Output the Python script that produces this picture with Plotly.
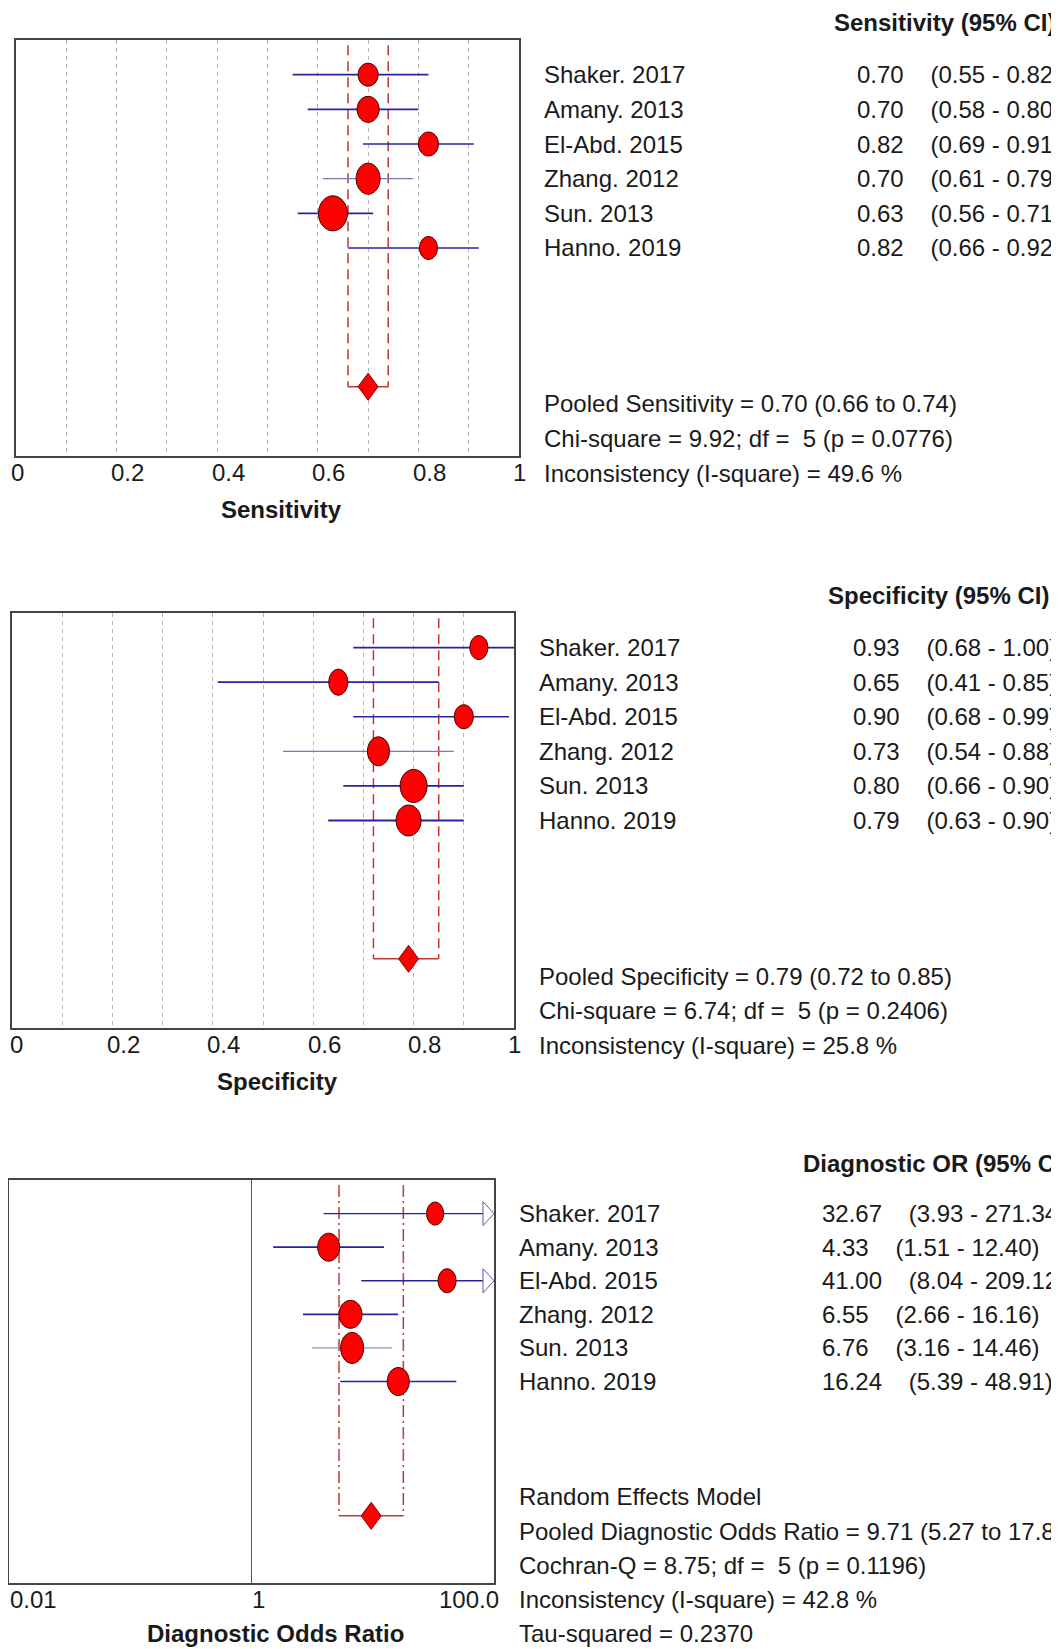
import numpy as np
import plotly.graph_objects as go

# The page body adds an 8px margin around the figure, so the figure is made
# 8px smaller and every pixel position is measured from that offset.
PAGE_W, PAGE_H = 1059, 1649
OFF = 8
W, H = PAGE_W - OFF, PAGE_H - OFF

# ---------------- data ----------------
studies = ["Shaker. 2017", "Amany. 2013", "El-Abd. 2015", "Zhang. 2012", "Sun. 2013", "Hanno. 2019"]

sens = [0.70, 0.70, 0.82, 0.70, 0.63, 0.82]
sens_lo = [0.55, 0.58, 0.69, 0.61, 0.56, 0.66]
sens_hi = [0.82, 0.80, 0.91, 0.79, 0.71, 0.92]
sens_pooled = [0.70, 0.66, 0.74]
sens_stats = ["Pooled Sensitivity = 0.70 (0.66 to 0.74)",
              "Chi-square = 9.92; df =\u00a0\u00a05 (p = 0.0776)",
              "Inconsistency (I-square) = 49.6 %"]

spec = [0.93, 0.65, 0.90, 0.73, 0.80, 0.79]
spec_lo = [0.68, 0.41, 0.68, 0.54, 0.66, 0.63]
spec_hi = [1.00, 0.85, 0.99, 0.88, 0.90, 0.90]
spec_pooled = [0.79, 0.72, 0.85]
spec_stats = ["Pooled Specificity = 0.79 (0.72 to 0.85)",
              "Chi-square = 6.74; df =\u00a0\u00a05 (p = 0.2406)",
              "Inconsistency (I-square) = 25.8 %"]

dor = [32.67, 4.33, 41.00, 6.55, 6.76, 16.24]
dor_lo = [3.93, 1.51, 8.04, 2.66, 3.16, 5.39]
dor_hi = [271.34, 12.40, 209.12, 16.16, 14.46, 48.91]
dor_pooled = [9.71, 5.27, 17.88]
dor_stats = ["Random Effects Model",
             "Pooled Diagnostic Odds Ratio = 9.71 (5.27 to 17.88)",
             "Cochran-Q = 8.75; df =\u00a0\u00a05 (p = 0.1196)",
             "Inconsistency (I-square) = 42.8 %",
             "Tau-squared = 0.2370"]

lin_ticks = [0, 0.2, 0.4, 0.6, 0.8, 1]
lin_ticktext = ["0", "0.2", "0.4", "0.6", "0.8", "1"]
log_ticks = [0.01, 1, 100]
log_ticktext = ["0.01", "1", "100.0"]

# ---------------- styles ----------------
FONT = "Liberation Sans, Arial, sans-serif"
FS = 24
TXT = "#1a1a1a"
RED = "#ff0000"
RED_LINE = "#c23636"
BLUE = "#2424a0"
BLUE_LIGHT = "#7a7ab8"
BOX = "#444444"

# marker ellipse sizes (px) per panel (w, h)
sens_sz = [(20, 23), (22, 26), (20, 24), (24, 31), (29, 35), (18, 23)]
spec_sz = [(18, 24), (19, 26), (19, 24), (22, 29), (27, 33), (25, 31)]
dor_sz = [(17, 23), (22, 28), (18, 24), (23, 28), (23, 31), (22, 28)]
sens_lw = [1.6, 1.8, 1.6, 1.1, 1.8, 1.6]
spec_lw = [1.6, 1.8, 1.6, 1.1, 1.6, 1.8]
dor_lw = [1.4, 1.6, 1.4, 1.6, 1.0, 1.6]

ROW_POOLED = 9
rows = list(range(len(studies)))

# panel geometry in page px (left, right, top, bottom)
panels = [
    dict(name="sens", box=(16, 519, 40, 456), xa="x", ya="y"),
    dict(name="spec", box=(12, 514, 613, 1028), xa="x2", ya="y2"),
    dict(name="dor", box=(9, 494, 1180, 1583), xa="x3", ya="y3"),
]
Y_RANGE = [11, -1]

fig = go.Figure()
shapes = []
annotations = []


def px2fx(p):
    return (p - OFF) / W


def px2fy(p):
    return 1 - (p - OFF) / H


def row_fy(panel, row):
    l, r, t, b = panel["box"]
    px = t + (row - Y_RANGE[1]) * (b - t) / (Y_RANGE[0] - Y_RANGE[1])
    return px2fy(px)


def ann(text, x, y, xref, xanchor="left", size=FS, bold=False, xshift=0):
    if bold:
        text = "<b>" + text + "</b>"
    annotations.append(dict(text=text, x=x, y=y, xref=xref, yref="paper",
                            xanchor=xanchor, yanchor="middle", showarrow=False,
                            xshift=xshift,
                            font=dict(family=FONT, size=size, color=TXT)))


def ellipse_path(w, h):
    rx, ry, k = w / 2, h / 2, 0.5523
    return (f"M {rx} 0 C {rx} {k*ry} {k*rx} {ry} 0 {ry} "
            f"C {-k*rx} {ry} {-rx} {k*ry} {-rx} 0 "
            f"C {-rx} {-k*ry} {-k*rx} {-ry} 0 {-ry} "
            f"C {k*rx} {-ry} {rx} {-k*ry} {rx} 0 Z")


def forest(p, est, lo, hi, pooled, sizes, lws, dash, xmax=None):
    xa, ya = p["xa"], p["ya"]
    # pooled CI dashed verticals + bracket
    for xv in pooled[1:]:
        fig.add_trace(go.Scatter(x=[xv, xv], y=[-0.85, ROW_POOLED], xaxis=xa, yaxis=ya,
                                 mode="lines", line=dict(color=RED_LINE, width=1.5, dash=dash),
                                 hoverinfo="skip", showlegend=False))
    fig.add_trace(go.Scatter(x=[pooled[1], pooled[2]], y=[ROW_POOLED, ROW_POOLED], xaxis=xa, yaxis=ya,
                             mode="lines", line=dict(color=RED_LINE, width=1.5),
                             hoverinfo="skip", showlegend=False))
    # CI lines
    for i in rows:
        up = hi[i] if xmax is None else min(hi[i], xmax)
        col = BLUE if lws[i] > 1.2 else BLUE_LIGHT
        fig.add_trace(go.Scatter(x=[lo[i], up], y=[i, i], xaxis=xa, yaxis=ya,
                                 mode="lines", line=dict(color=col, width=lws[i]),
                                 hoverinfo="skip", showlegend=False, cliponaxis=False))
        if xmax is not None and hi[i] > xmax:
            shapes.append(dict(type="path", xref=xa, yref=ya, xsizemode="pixel", ysizemode="pixel",
                               xanchor=xmax, yanchor=i,
                               path="M -11 -12 L 0 0 L -11 12 Z",
                               line=dict(color="#5a5ab0", width=1), fillcolor="white",
                               layer="above"))
    # study ellipses
    for i in rows:
        w, h = sizes[i]
        shapes.append(dict(type="path", xref=xa, yref=ya, xsizemode="pixel", ysizemode="pixel",
                           xanchor=est[i], yanchor=i, path=ellipse_path(w, h),
                           fillcolor=RED, line=dict(color="#400000", width=1), layer="above"))
    # pooled diamond
    shapes.append(dict(type="path", xref=xa, yref=ya, xsizemode="pixel", ysizemode="pixel",
                       xanchor=pooled[0], yanchor=ROW_POOLED,
                       path="M -10 0 L 0 13.5 L 10 0 L 0 -13.5 Z",
                       fillcolor=RED, line=dict(color="#8a0000", width=1), layer="above"))


forest(panels[0], sens, sens_lo, sens_hi, sens_pooled, sens_sz, sens_lw, "10px,6px")
forest(panels[1], spec, spec_lo, spec_hi, spec_pooled, spec_sz, spec_lw, "10px,6px")
forest(panels[2], dor, dor_lo, dor_hi, dor_pooled, dor_sz, dor_lw, "12px,4px,2px,4px", xmax=log_ticks[-1])

# reference line at DOR = 1
shapes.append(dict(type="line", xref="x3", yref="y3 domain", x0=1, x1=1, y0=0, y1=1,
                   line=dict(color="#555555", width=1), layer="below"))

# ---------------- axes ----------------
axis_common = dict(showline=True, mirror=True, linecolor=BOX, linewidth=1.5,
                   zeroline=False, ticks="", showticklabels=False)
layout_axes = {}
for k, p in enumerate(panels):
    l, r, t, b = p["box"]
    sfx = "" if k == 0 else str(k + 1)
    if p["name"] == "dor":
        xa = dict(type="log", range=[np.log10(log_ticks[0]), np.log10(log_ticks[-1])],
                  showgrid=False, **axis_common)
    else:
        xa = dict(range=[0, 1], showgrid=True, gridcolor="#b5b5b5", griddash="4px,4px",
                  gridwidth=1, tickvals=list(np.round(np.arange(0.1, 1.0, 0.1), 1)), **axis_common)
    xa["domain"] = [px2fx(l), px2fx(r)]
    xa["anchor"] = "y" + sfx
    ya = dict(range=Y_RANGE, showgrid=False, domain=[px2fy(b), px2fy(t)],
              anchor="x" + sfx, **axis_common)
    layout_axes["xaxis" + sfx] = xa
    layout_axes["yaxis" + sfx] = ya

# ---------------- text ----------------
text_cfg = [
    dict(p=panels[0], title="Sensitivity", header="Sensitivity (95% CI)", est=sens, lo=sens_lo, hi=sens_hi,
         stats=sens_stats, name_x=542, val_x=855, head_x=832, title_x=281, stat_rows=[9.5, 10.5, 11.5],
         tick_row=11.48, title_row=12.55, zero_shift=1),
    dict(p=panels[1], title="Specificity", header="Specificity (95% CI)", est=spec, lo=spec_lo, hi=spec_hi,
         stats=spec_stats, name_x=537, val_x=851, head_x=826, title_x=277, stat_rows=[9.5, 10.5, 11.5],
         tick_row=11.48, title_row=12.55, zero_shift=4),
    dict(p=panels[2], title="Diagnostic Odds Ratio", header="Diagnostic OR (95% CI)", est=dor, lo=dor_lo, hi=dor_hi,
         stats=dor_stats, name_x=517, val_x=820, head_x=801, title_x=275,
         stat_rows=[8.42, 9.46, 10.48, 11.49, 12.5], tick_row=11.49, title_row=12.5),
]

GAP = "\u00a0" * 4
for c in text_cfg:
    p = c["p"]
    ann(c["header"], px2fx(c["head_x"]), row_fy(p, -1.5), "paper", bold=True)
    for i in rows:
        ann(studies[i], px2fx(c["name_x"]), row_fy(p, i), "paper")
        ann(f"{c['est'][i]:.2f}{GAP}({c['lo'][i]:.2f} - {c['hi'][i]:.2f})",
            px2fx(c["val_x"]), row_fy(p, i), "paper")
    for s, r in zip(c["stats"], c["stat_rows"]):
        ann(s, px2fx(c["name_x"]), row_fy(p, r), "paper")
    ann(c["title"], px2fx(c["title_x"]), row_fy(p, c["title_row"]), "paper",
        xanchor="center", bold=True, size=FS)

# tick labels
for k in (0, 1):
    p = panels[k]
    for v, t in zip(lin_ticks, lin_ticktext):
        if v == 0:
            shift = text_cfg[k]["zero_shift"]
        elif v == 1:
            shift = 0
        else:
            shift = 11
        ann(t, v, row_fy(p, text_cfg[k]["tick_row"]), p["xa"], xanchor="center", xshift=shift)
p = panels[2]
ty = row_fy(p, text_cfg[2]["tick_row"])
ann(log_ticktext[0], np.log10(log_ticks[0]), ty, p["xa"], xanchor="left", xshift=-1)
ann(log_ticktext[1], np.log10(log_ticks[1]), ty, p["xa"], xanchor="left", xshift=-2)
ann(log_ticktext[2], np.log10(log_ticks[2]), ty, p["xa"], xanchor="right", xshift=7)

fig.update_layout(width=W, height=H, margin=dict(l=0, r=0, t=0, b=0),
                  paper_bgcolor="white", plot_bgcolor="white",
                  shapes=shapes, annotations=annotations, showlegend=False,
                  **layout_axes)

fig.write_html("out.html")
